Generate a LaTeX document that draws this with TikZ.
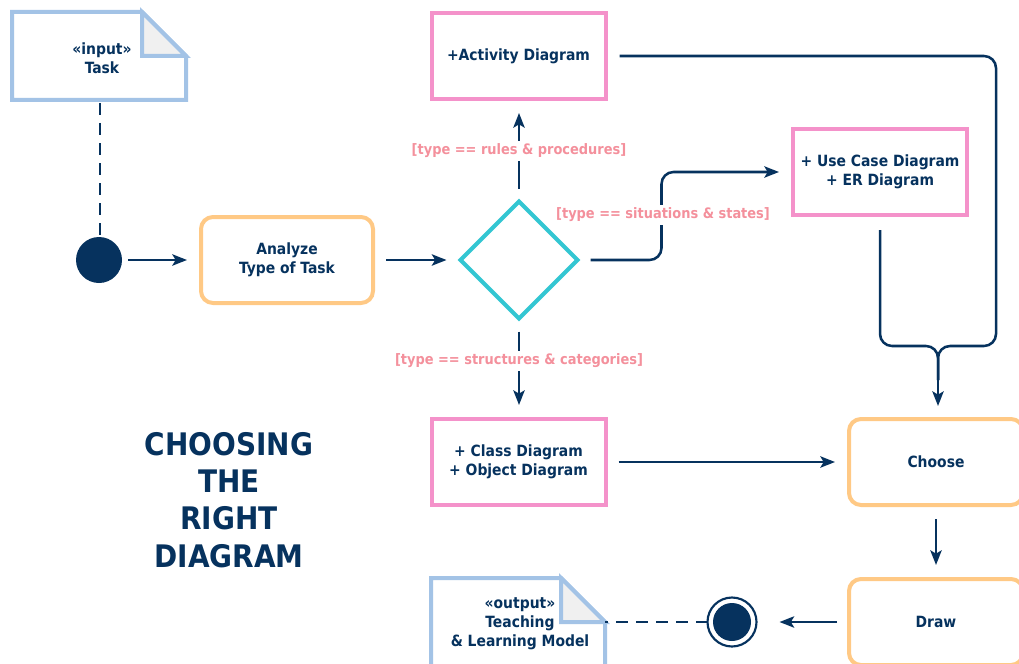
\documentclass[tikz,border=0pt]{standalone}
\usepackage{fontspec}
\setmainfont{DejaVu Sans Condensed}
\usetikzlibrary{shapes.geometric,arrows.meta,calc}

\definecolor{navy}{HTML}{06325E}
\definecolor{noteblue}{HTML}{A3C3E6}
\definecolor{foldgray}{HTML}{F0F0F0}
\definecolor{actorange}{HTML}{FFC985}
\definecolor{diagpink}{HTML}{F492CA}
\definecolor{decicyan}{HTML}{33C6D2}
\definecolor{guardpink}{HTML}{F4909C}

% one drawing unit
\newdimen\px \px=0.75pt

\tikzset{
  txt/.style={font=\fontsize{11.6}{14.2}\selectfont\bfseries, text=navy, align=center},
  notebox/.style={txt, minimum width=174\px, minimum height=88\px, inner sep=0, outer sep=0},
  actbox/.style={txt, draw=actorange, line width=3pt, rounded corners=12\px,
                 minimum width=172\px, minimum height=86\px, inner sep=0, outer sep=0},
  diagbox/.style={txt, draw=diagpink, line width=3pt,
                 minimum width=174\px, minimum height=86\px, inner sep=0, outer sep=0},
  decision/.style={diamond, draw=decicyan, line width=3pt, minimum width=117\px,
                 minimum height=117\px, inner sep=0, outer sep=0},
  guard/.style={font=\fontsize{10.8}{12}\selectfont\bfseries, text=guardpink,
                fill=white, inner sep=2pt},
  flow/.style={draw=navy, line width=1.9pt,
               -{Stealth[length=11pt,width=8.5pt,inset=2.5pt]},
               shorten <=13\px, shorten >=14\px},
  link/.style={draw=navy, line width=1.9pt, dash pattern=on 9pt off 6pt},
  notedraw/.style={draw=noteblue, line width=3pt, line join=miter}
}

\begin{document}
\begin{tikzpicture}[x=0.75pt,y=-0.75pt]
\useasboundingbox (0,0) rectangle (1019,663);

% input and output notes
\node[notebox] (input) at (99,56) {};
\node[notebox] (output) at (518,622) {};
\foreach \n in {input,output} {
  \draw[notedraw, fill=white]
    (\n.north west) -- ($(\n.north east)+(-44,0)$) -- ($(\n.north east)+(0,44)$)
    -- (\n.south east) -- (\n.south west) -- cycle;
  \draw[notedraw, fill=foldgray]
    ($(\n.north east)+(-44,0)$) -- ($(\n.north east)+(-44,44)$) -- ($(\n.north east)+(0,44)$) -- cycle;
}
\node[txt] (inputtext) at (102,58) {\guillemotleft input\guillemotright\\Task};
\node[txt] (outputtext) at (520,624) {\guillemotleft output\guillemotright\\Teaching\\\& Learning Model};

% initial and final nodes
\node[circle, fill=navy, minimum size=46\px, inner sep=0, outer sep=0] (start) at (99,260) {};
\node[circle, draw=navy, line width=1.6pt, fill=white, minimum size=49\px, inner sep=0, outer sep=0] (stop) at (732,622) {};
\fill[navy] (stop) circle (19);

% actions
\node[actbox] (analyze) at (287,260) {Analyze\\Type of Task};
\node[actbox, minimum width=174\px] (choose) at (936,462) {Choose};
\node[actbox, minimum width=174\px] (draw) at (936,622) {Draw};

% decision and diagram groups
\node[decision] (dec) at (519,260) {};
\node[diagbox] (activity) at (518.5,56) {+Activity Diagram};
\node[diagbox, line width=3.6pt] (usecase) at (880,172) {+ Use Case Diagram\\+ ER Diagram};
\node[diagbox] (class) at (518.5,462) {+ Class Diagram\\+ Object Diagram};

% object flows
\draw[link] ($(input.south)+(1,3)$) -- ($(start.north)+(1,0)$);
\draw[link] (stop.west) -- ($(output.north east)+(0,44)$);

% control flows
\draw[flow, shorten <=6\px] (start.east) -- (analyze.west);
\draw[flow] (analyze.east) -- (dec.west);
\draw[flow] (dec.north) -- (activity.south -| dec.north);
\draw[flow] (dec.south) -- (class.north -| dec.south);
\draw[flow, rounded corners=12\px] (dec.east) -- ($(dec.east)+(84,0)$) |- (usecase.west);
\draw[flow] (class.east) -- (choose.west);
\draw[flow, shorten <=14\px, shorten >=14\px] (choose.south) -- (draw.north);
\draw[flow, shorten <=12\px, shorten >=23\px] (draw.west) -- (stop.east);

% merge into Choose
\coordinate (join) at (938,346);
\draw[navy, line width=1.9pt, rounded corners=12\px, shorten <=14\px]
  (activity.east) -- (996,56) -- (996,346) -- (join) -- (938,380);
\draw[navy, line width=1.9pt, rounded corners=12\px, shorten <=15\px]
  (usecase.south) -- (880,346) -- (join) -- (938,380);
\draw[flow, shorten <=0pt, shorten >=13\px] (938,370) -- (choose.north -| join);

% guards
\node[guard] at (519,151) {[type == rules \& procedures]};
\node[guard] at (663,215) {[type == situations \& states]};
\node[guard] at (519,361) {[type == structures \& categories]};

% title
\node[font=\fontsize{23.3}{28}\selectfont\bfseries, text=navy, align=center] (title) at (229,500)
  {CHOOSING\\THE\\RIGHT\\DIAGRAM};
\end{tikzpicture}
\end{document}
